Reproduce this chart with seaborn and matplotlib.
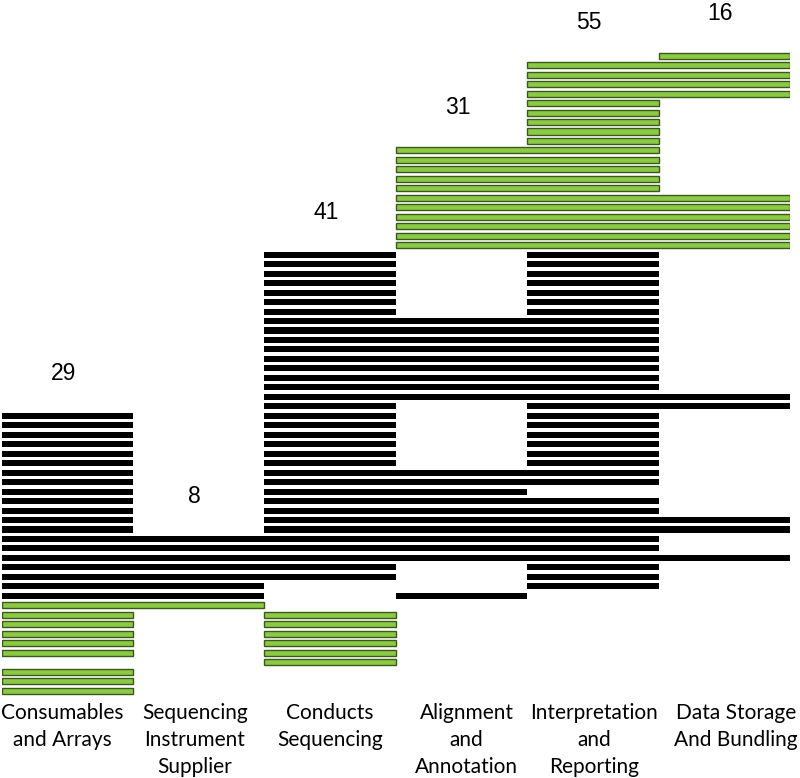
import matplotlib
matplotlib.use("Agg")
import matplotlib.pyplot as plt
import seaborn as sns
import pandas as pd

# ---- data -------------------------------------------------------------
categories = ["Consumables\nand Arrays", "Sequencing\nInstrument\nSupplier",
              "Conducts\nSequencing", "Alignment\nand\nAnnotation",
              "Interpretation\nand\nReporting", "Data Storage\nAnd Bundling"]
counts = [29, 8, 41, 31, 55, 16]

# one string per company row: K = black company, G = green company, . = absent
grid = [
    ".....G",
    "....GG", "....GG", "....GG", "....GG",
    "....G.", "....G.", "....G.", "....G.", "....G.",
    "...GG.", "...GG.", "...GG.", "...GG.", "...GG.",
    "...GGG", "...GGG", "...GGG", "...GGG", "...GGG", "...GGG",
    "..K.K.", "..K.K.", "..K.K.", "..K.K.", "..K.K.", "..K.K.", "..K.K.",
    "..KKK.", "..KKK.", "..KKK.", "..KKK.", "..KKK.", "..KKK.", "..KKK.", "..KKK.",
    "..KKKK",
    "..K.KK",
    "K.K.K.", "K.K.K.", "K.K.K.", "K.K.K.", "K.K.K.", "K.K.K.",
    "K.KKK.", "K.KKK.",
    "K.KK..",
    "K.KKK.", "K.KKK.",
    "K.KKKK", "K.KKKK",
    "KKKKK.", "KKKKK.",
    "KKKKKK",
    "KKK.K.", "KKK.K.",
    "KK..K.",
    "KK.K..",
    "GG....",
    "G.G...", "G.G...", "G.G...", "G.G...", "G.G...",
    "..G...",
    "G.....", "G.....", "G.....",
]

# ---- build segments (contiguous runs in each row) ---------------------
segs = []
for r, row in enumerate(grid):
    c = 0
    while c < len(row):
        ch = row[c]
        if ch == ".":
            c += 1
            continue
        start = c
        while c < len(row) and row[c] == ch:
            c += 1
        segs.append({"row": r, "start": start, "width": c - start, "kind": ch})
df = pd.DataFrame(segs)

# ---- figure -----------------------------------------------------------
sns.set_theme(style="white")
W, H = 800, 778
fig = plt.figure(figsize=(W / 100, H / 100), dpi=100)
pitch = 9.476
y0 = 55.7
ax = fig.add_axes([1.5 / W, (H - 700) / H, 788.5 / W, 700 / H])
ax.set_xlim(0, 6)
ax.set_ylim((700 - y0) / pitch, -y0 / pitch)

green_face = "#8cc944"
green_edge = "#3a5a1c"
for kind, sub in df.groupby("kind"):
    if kind == "K":
        ax.barh(sub["row"], sub["width"], left=sub["start"], height=0.64,
                color="black", edgecolor="none")
    else:
        ax.barh(sub["row"], sub["width"], left=sub["start"], height=0.64,
                color=green_face, edgecolor=green_edge, linewidth=1.0)

# count labels above each column
for c, n in enumerate(counts):
    top = min(r for r, row in enumerate(grid) if row[c] != ".")
    ax.text(c + 0.47, top - 4.5, str(n), ha="center", va="center",
            fontsize=16.5, family=["Liberation Sans", "DejaVu Sans"],
            color="black", clip_on=False)

# category labels (text boxes nudged as in the original layout)
label_shift = [-0.035, -0.03, 0.0, 0.04, 0.01, 0.09]
for c, lab in enumerate(categories):
    ax.text(c + 0.5 + label_shift[c], -0.004, lab,
            transform=ax.get_xaxis_transform(),
            ha="center", va="top", fontsize=15, family=["Lato", "DejaVu Sans"],
            linespacing=1.45, color="black", clip_on=False)

ax.set_xticks([])
ax.set_yticks([])
sns.despine(ax=ax, left=True, bottom=True)

fig.savefig("out.png", dpi=100, facecolor="white")
